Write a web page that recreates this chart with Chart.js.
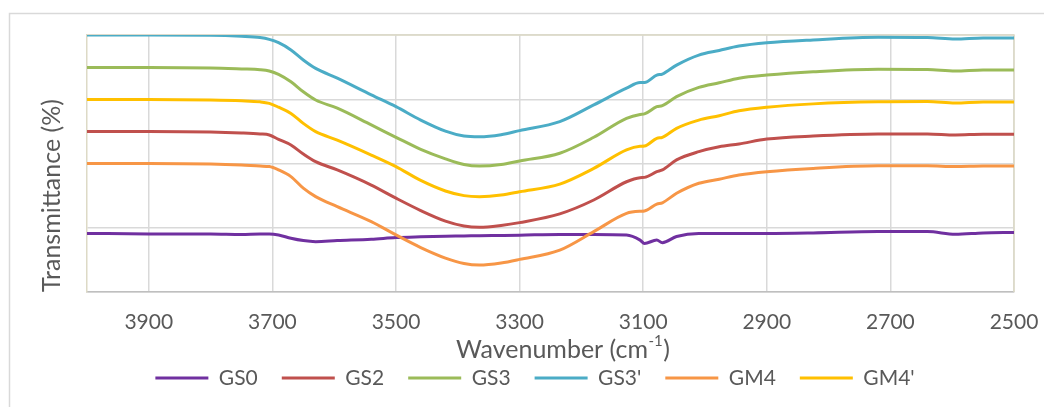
<!DOCTYPE html>
<html>
<head>
<meta charset="utf-8">
<script src="https://cdn.jsdelivr.net/npm/chart.js@4.4.1/dist/chart.umd.min.js"></script>
<style>
  html, body { margin: 0; padding: 0; background: #ffffff; }
  #wrap { position: relative; width: 1044px; height: 407px; }
</style>
</head>
<body>
<div id="wrap"><canvas id="c" width="1044" height="407"></canvas></div>
<script>
// ---- data ----
const wavenumbers = [4000, 3900, 3800, 3750, 3720, 3705, 3690, 3670, 3650, 3630, 3595, 3540, 3500, 3460, 3420, 3390, 3365, 3330, 3300, 3235, 3180, 3127, 3105, 3098, 3078, 3069, 3046, 3010, 2977, 2945, 2900, 2825, 2720, 2640, 2595, 2550, 2500];
const gs0  = [22.8, 22.6, 22.6, 22.4, 22.6, 22.6, 22.2, 20.9, 20.0, 19.6, 20.0, 20.5, 21.2, 21.5, 21.7, 21.8, 21.9, 22.0, 22.1, 22.4, 22.4, 22.2, 20.2, 18.9, 20.2, 19.2, 21.6, 22.8, 22.8, 22.8, 22.8, 23.0, 23.5, 23.5, 22.5, 23.0, 23.2];
const gs2  = [62.5, 62.5, 62.3, 61.9, 61.5, 61.1, 59.4, 57.2, 53.7, 50.7, 47.5, 41.6, 36.5, 31.7, 27.6, 25.7, 25.2, 25.9, 27.0, 30.4, 35.8, 42.9, 44.5, 44.6, 46.8, 47.5, 51.4, 54.6, 56.5, 57.6, 59.5, 60.7, 61.5, 61.5, 61.1, 61.4, 61.4];
const gs3  = [87.4, 87.4, 87.2, 86.8, 86.5, 86.0, 84.7, 81.8, 77.9, 74.7, 71.5, 65.0, 60.2, 55.5, 51.8, 49.6, 49.0, 49.6, 51.0, 54.0, 60.2, 67.6, 69.1, 69.3, 72.1, 72.5, 76.0, 79.6, 81.4, 83.2, 84.4, 85.7, 86.7, 86.6, 86.0, 86.4, 86.4];
const gs3p = [100.0, 100.0, 99.9, 99.5, 99.0, 98.3, 97.0, 94.2, 90.3, 87.0, 83.2, 76.7, 72.1, 66.9, 62.6, 60.7, 60.4, 61.2, 62.8, 66.3, 72.8, 79.3, 81.5, 81.5, 84.4, 84.8, 88.3, 92.2, 94.0, 95.7, 97.0, 98.1, 99.1, 99.0, 98.4, 98.8, 98.8];
const gm4  = [50.0, 50.0, 49.8, 49.4, 49.0, 48.8, 47.5, 44.9, 40.4, 37.1, 33.2, 27.4, 22.2, 17.3, 13.2, 11.1, 10.5, 11.3, 12.7, 16.3, 23.5, 30.6, 31.4, 31.5, 34.2, 34.7, 38.4, 42.3, 43.9, 45.5, 46.8, 48.1, 49.1, 49.1, 48.8, 49.0, 49.0];
const gm4p = [74.9, 74.9, 74.7, 74.4, 74.0, 73.4, 71.9, 69.5, 65.6, 62.4, 59.1, 53.3, 48.8, 43.4, 39.3, 37.5, 37.1, 37.7, 39.0, 42.0, 48.1, 55.3, 56.7, 56.8, 59.8, 60.2, 63.7, 66.9, 68.6, 70.5, 71.9, 73.2, 74.0, 74.1, 73.5, 73.9, 73.9];
const seriesNames = ["GS0", "GS2", "GS3", "GS3'", "GM4", "GM4'"];
const xTicks = [3900, 3700, 3500, 3300, 3100, 2900, 2700, 2500];
const yTitle = "Transmittance (%)";
const xTitleMain = "Wavenumber (cm";
const xTitleSup = "-1";
const xTitleEnd = ")";

// ---- styling ----
const colors = ['#7030A0', '#C0504D', '#9BBB59', '#4BACC6', '#F79646', '#FFC000'];
const seriesValues = [gs0, gs2, gs3, gs3p, gm4, gm4p];
const textColor = '#595959';
const FONT = 'Lato';

const datasets = seriesValues.map((vals, i) => ({
  label: seriesNames[i],
  data: wavenumbers.map((w, k) => ({ x: w, y: vals[k] })),
  borderColor: colors[i],
  backgroundColor: colors[i],
  borderWidth: 3,
  pointRadius: 0,
  tension: 0.4,
  cubicInterpolationMode: 'monotone',
  fill: false,
  order: seriesValues.length - i
}));

const decor = {
  id: 'decor',
  beforeDraw(chart) {
    const ctx = chart.ctx;
    ctx.save();
    ctx.strokeStyle = '#d9d9d9';
    ctx.lineWidth = 1.5;
    ctx.beginPath();
    ctx.moveTo(1050, 13.5);
    ctx.lineTo(9.5, 13.5);
    ctx.lineTo(9.5, 420);
    ctx.stroke();
    ctx.restore();
  },
  beforeDatasetsDraw(chart) {
    const ctx = chart.ctx;
    const a = chart.chartArea;
    ctx.save();
    ctx.strokeStyle = '#dddac6';
    ctx.lineWidth = 1.5;
    ctx.beginPath();
    ctx.moveTo(a.left, a.top);
    ctx.lineTo(a.right, a.top);
    ctx.lineTo(a.right, a.bottom);
    ctx.stroke();
    ctx.restore();
  },
  afterDraw(chart) {
    const ctx = chart.ctx;
    ctx.save();
    ctx.fillStyle = textColor;
    // y title
    ctx.save();
    ctx.translate(52, 195.5);
    ctx.rotate(-Math.PI / 2);
    ctx.font = '25px ' + FONT;
    ctx.textAlign = 'center';
    ctx.textBaseline = 'middle';
    ctx.fillText(yTitle, 0, 0);
    ctx.restore();
    // x title with superscript
    ctx.font = '25px ' + FONT;
    const w1 = ctx.measureText(xTitleMain).width;
    const w3 = ctx.measureText(xTitleEnd).width;
    ctx.font = '15px ' + FONT;
    const w2 = ctx.measureText(xTitleSup).width;
    let x = 562.5 - (w1 + w2 + w3) / 2;
    const y = 349.5;
    ctx.textAlign = 'left';
    ctx.textBaseline = 'middle';
    ctx.font = '25px ' + FONT;
    ctx.fillText(xTitleMain, x, y);
    x += w1;
    ctx.font = '15px ' + FONT;
    ctx.fillText(xTitleSup, x + 0.5, y - 8);
    x += w2 + 1;
    ctx.font = '25px ' + FONT;
    ctx.fillText(xTitleEnd, x, y);
    ctx.restore();
  }
};

new Chart(document.getElementById('c'), {
  type: 'line',
  data: { datasets },
  options: {
    responsive: false,
    animation: false,
    events: [],
    layout: { padding: { left: 56, right: 30, top: 35, bottom: 8.5 } },
    plugins: {
      tooltip: { enabled: false },
      title: { display: false },
      legend: {
        display: true,
        position: 'bottom',
        labels: {
          boxWidth: 53,
          boxHeight: 3,
          padding: 24,
          color: textColor,
          font: { family: FONT, size: 21 },
          generateLabels: (chart) => chart.data.datasets.map((ds, i) => ({
            text: ds.label,
            fillStyle: ds.borderColor,
            strokeStyle: ds.borderColor,
            lineWidth: 0,
            hidden: false,
            datasetIndex: i,
            fontColor: textColor
          }))
        }
      }
    },
    scales: {
      x: {
        type: 'linear',
        reverse: true,
        min: 2500,
        max: 4000,
        afterBuildTicks: (scale) => { scale.ticks = xTicks.map(v => ({ value: v })); },
        afterFit: (scale) => { scale.height = 51.5; scale.paddingLeft = 0; scale.paddingRight = 0; },
        ticks: {
          padding: 18,
          color: textColor,
          font: { family: FONT, size: 21 },
          maxRotation: 0,
          autoSkip: false,
          callback: (v) => String(v)
        },
        grid: { color: '#d9d9d9', lineWidth: 1.5, drawTicks: false },
        border: { display: true, color: '#bfbfbf', width: 1.5 },
        title: { display: false }
      },
      y: {
        type: 'linear',
        min: 0,
        max: 100,
        afterFit: (scale) => { scale.width = 31; scale.paddingTop = 0; scale.paddingBottom = 0; },
        ticks: { display: false, stepSize: 25 },
        grid: { color: '#d9d9d9', lineWidth: 1.5, drawTicks: false },
        border: { display: true, color: '#dddac6', width: 1.5 },
        title: { display: false }
      }
    }
  },
  plugins: [decor]
});
</script>
</body>
</html>
